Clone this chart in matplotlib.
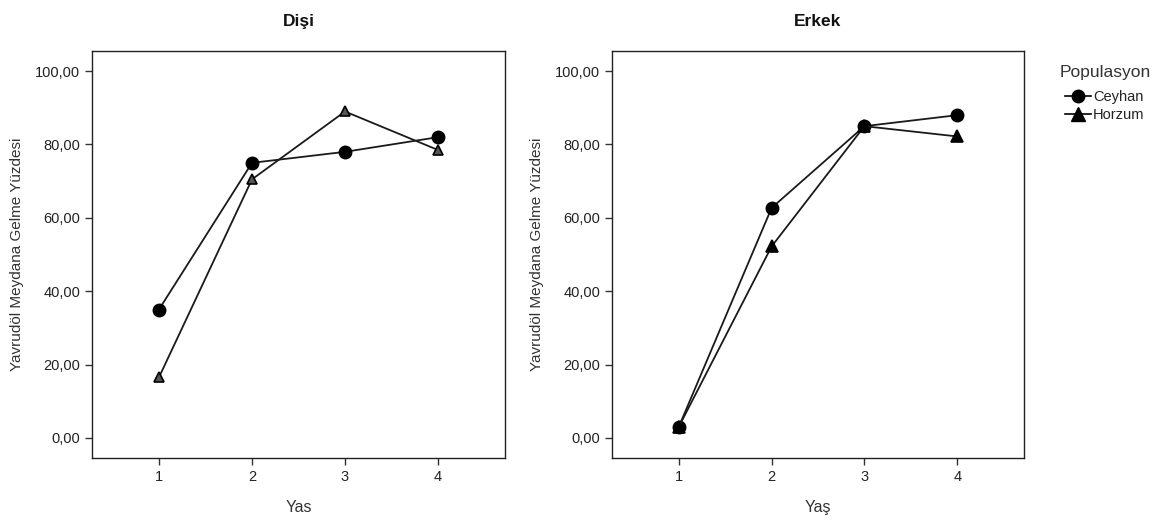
import matplotlib
matplotlib.use("Agg")
import matplotlib.pyplot as plt
from matplotlib.lines import Line2D

plt.rcParams["font.family"] = ["Liberation Sans", "DejaVu Sans"]

yas = [1, 2, 3, 4]

# Dişi
disi_ceyhan = [35.0, 75.0, 78.0, 82.0]
disi_horzum = [16.5, 70.5, 89.0, 78.5]

# Erkek
erkek_ceyhan = [3.0, 62.7, 85.0, 88.0]
erkek_horzum = [3.0, 52.2, 85.0, 82.2]

yticks = [0, 20, 40, 60, 80, 100]
ytick_labels = ["0,00", "20,00", "40,00", "60,00", "80,00", "100,00"]

panels = [
    ("Dişi", "Yas", disi_ceyhan, disi_horzum, 6.5, "#555555"),
    ("Erkek", "Yaş", erkek_ceyhan, erkek_horzum, 8.0, "black"),
]

fig = plt.figure(figsize=(11.62, 5.22), dpi=100)
W, H = 1162.0, 522.0
boxes = [(92, 51, 505, 458), (612, 51, 1024, 458)]

for (title, xlab, cey, hor, tri_ms, tri_fc), (x0, y0, x1, y1) in zip(panels, boxes):
    ax = fig.add_axes([x0 / W, 1 - y1 / H, (x1 - x0) / W, (y1 - y0) / H])
    ax.plot(yas, cey, "-", color="#1a1a1a", lw=1.3, marker="o", ms=9,
            mfc="black", mec="black", zorder=3)
    ax.plot(yas, hor, "-", color="#1a1a1a", lw=1.3, marker="^", ms=tri_ms,
            mfc=tri_fc, mec="black", mew=1.2, zorder=3)
    ax.set_xlim(0.28, 4.72)
    ax.set_ylim(-5.5, 105.5)
    ax.set_xticks(yas)
    ax.set_xticklabels([str(v) for v in yas])
    ax.set_yticks(yticks)
    ax.set_yticklabels(ytick_labels)
    ax.tick_params(axis="both", direction="out", length=5, width=1,
                   color="#333333", labelsize=10.5, labelcolor="#222222")
    for s in ax.spines.values():
        s.set_color("#222222")
        s.set_linewidth(1.0)
    ax.set_title(title, fontsize=12.5, fontweight="bold", pad=18, color="#111111")
    ax.set_xlabel(xlab, fontsize=11.5, color="#333333", labelpad=12)
    ax.set_ylabel("Yavrudöl Meydana Gelme Yüzdesi", fontsize=11, color="#333333",
                  labelpad=8)

handles = [
    Line2D([], [], color="black", lw=1.2, marker="o", ms=9, mfc="black"),
    Line2D([], [], color="black", lw=1.2, marker="^", ms=10, mfc="black"),
]
leg = fig.legend(handles, ["Ceyhan", "Horzum"], title="Populasyon",
                 loc="upper left", bbox_to_anchor=(1049 / W, 1 - 55 / H),
                 frameon=False, fontsize=10.5, title_fontsize=12.5,
                 handlelength=1.8, handletextpad=0.1, labelspacing=0.3,
                 borderpad=0.2)
leg._legend_box.sep = 7
leg.get_title().set_color("#333333")
for t in leg.get_texts():
    t.set_color("#222222")

fig.savefig("out.png", dpi=100)
